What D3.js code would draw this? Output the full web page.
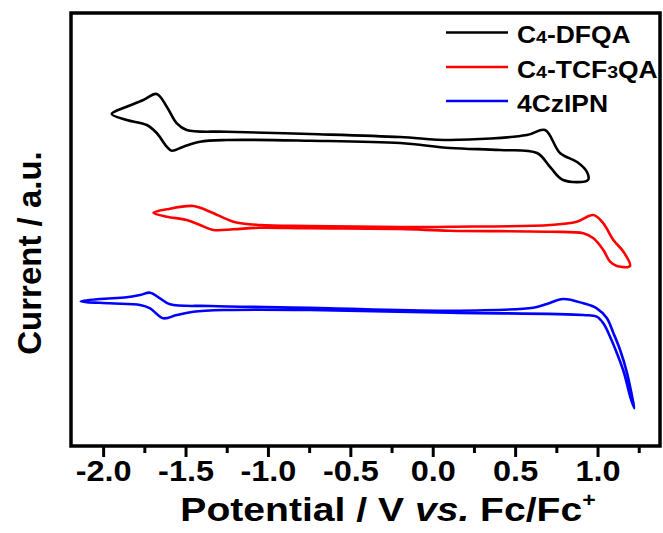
<!DOCTYPE html>
<meta charset="utf-8">
<style>
body { margin: 0; background: #fff; }
.frame { fill: none; stroke: #000; stroke-width: 3.5px; }
.cv { fill: none; stroke-width: 2.6px; stroke-linejoin: round; }
.axis text { font-family: "Liberation Sans", Arial, sans-serif; font-weight: bold; font-size: 29px; fill: #000; }
.axis line { stroke: #000; stroke-width: 3px; }
.axis path { display: none; }
.lbl { font-family: "Liberation Sans", Arial, sans-serif; font-weight: bold; fill: #000; }
</style>
<body>
<script src="https://d3js.org/d3.v7.min.js"></script>
<script>

// tick values of the potential axis
var majorTicks = [-2.0, -1.5, -1.0, -0.5, 0.0, 0.5, 1.0];
var minorTicks = [-2.25, -1.75, -1.25, -0.75, -0.25, 0.25, 0.75, 1.25];

// CV loops: forward scan then return scan (potential V, current a.u.)
var dfqaV = [-1.948, -1.857, -1.756, -1.675, -1.614, -1.553, -1.493, -1.250, -0.745, -0.198, 0.105, 0.572, 0.681, 0.772, 0.876, 0.936, 0.942,
             0.791, 0.712, 0.633, 0.408, 0.105, -0.198, -0.745, -1.250, -1.412, -1.513, -1.584, -1.614, -1.675, -1.735, -1.857];
var dfqaI = [33.2, 33.93, 34.6, 35.2, 33.93, 32.27, 31.6, 31.43, 31.2, 30.9, 30.6, 31.1, 31.6, 29.3, 28.4, 27.4, 26.6,
             26.6, 27.9, 29.3, 29.6, 29.8, 30.3, 30.53, 30.6, 30.43, 29.93, 29.53, 29.93, 31.3, 32.1, 32.6];

var tcfV = [-1.695, -1.614, -1.453, -1.351, -1.210, -1.048, -0.745, -0.198, 0.105, 0.712, 0.874, 0.975, 1.035, 1.096, 1.157, 1.197,
            1.117, 1.076, 1.035, 0.975, 0.914, 0.712, 0.105, -0.198, -0.745, -1.048, -1.210, -1.331, -1.412, -1.493, -1.614];
var tcfI = [23.32, 23.67, 24.0, 23.43, 22.43, 22.1, 22.0, 21.9, 21.93, 22.1, 22.43, 23.1, 22.27, 20.6, 19.43, 18.0,
            18.0, 18.43, 19.6, 20.77, 21.27, 21.43, 21.53, 21.7, 21.77, 21.83, 21.67, 21.6, 22.1, 22.6, 22.93];

var czV = [-2.136, -2.019, -1.857, -1.776, -1.715, -1.655, -1.594, -1.351, -0.745, 0.105, 0.610, 0.692, 0.792, 0.914, 0.995, 1.056, 1.096, 1.137, 1.179, 1.209, 1.223,
           1.197, 1.161, 1.117, 1.076, 1.035, 0.995, 0.914, 0.105, -0.745, -1.250, -1.453, -1.553, -1.635, -1.715, -1.776, -1.958];
var czI = [14.47, 14.7, 14.87, 15.1, 15.33, 14.77, 14.17, 14.0, 13.83, 13.53, 13.83, 14.2, 14.7, 14.27, 13.77, 12.8, 11.3, 9.6, 7.3, 5.0, 3.77,
           5.0, 7.3, 9.3, 10.93, 12.27, 12.93, 13.1, 13.33, 13.6, 13.6, 13.43, 13.1, 12.77, 13.77, 14.1, 14.27];

var seriesNames = ["C4-DFQA", "C4-TCF3QA", "4CzIPN"];
var seriesColors = ["#000000", "#ff0000", "#0000ff"];

// plot box ("top" is taken by window.top, so prefixed names)
var boxL = 71, boxR = 660, boxT = 13, boxB = 446;

var x = d3.scaleLinear().domain([-2.195, 1.379]).range([boxL, boxR]);
var y = d3.scaleLinear().domain([0, 43.3]).range([boxB, boxT]);

var svg = d3.select("body").append("svg")
    .attr("width", 663)
    .attr("height", 533);

var loop = d3.line()
    .x(function(d) { return x(d[0]); })
    .y(function(d) { return y(d[1]); })
    .curve(d3.curveCatmullRomClosed.alpha(0.5));

var loops = [d3.zip(dfqaV, dfqaI), d3.zip(tcfV, tcfI), d3.zip(czV, czI)];

loops.forEach(function(pts, i) {
  svg.append("path")
      .datum(pts)
      .attr("class", "cv")
      .style("stroke", seriesColors[i])
      .attr("d", loop);
});

// minor ticks
svg.append("g")
    .attr("class", "axis")
    .attr("transform", "translate(0," + boxB + ")")
    .call(d3.axisBottom(x).tickValues(minorTicks.filter(function(v) { return x(v) > boxL; }))
      .tickSize(7).tickFormat(""));

// major ticks + labels
svg.append("g")
    .attr("class", "axis")
    .attr("transform", "translate(0," + boxB + ")")
    .call(d3.axisBottom(x).tickValues(majorTicks).tickSize(11).tickPadding(3)
      .tickFormat(function(d) { return d.toFixed(1); }))
  .selectAll("text")
    .attr("transform", "scale(1.12,1)");

// frame
svg.append("rect").attr("class", "frame")
    .attr("x", boxL).attr("y", boxT)
    .attr("width", boxR - boxL).attr("height", boxB - boxT);

// axis titles (the original type is a bit wider than Liberation Sans)
var xt = svg.append("text").attr("class", "lbl")
    .attr("transform", "translate(388,521) scale(1.15,1)")
    .attr("text-anchor", "middle")
    .style("font-size", "34px");
xt.append("tspan").text("Potential / V ");
xt.append("tspan").style("font-style", "italic").text("vs.");
xt.append("tspan").text(" Fc/Fc");
xt.append("tspan").attr("dy", -14).style("font-size", "20px").text("+");

svg.append("text").attr("class", "lbl")
    .attr("transform", "translate(41,253) rotate(-90)")
    .attr("text-anchor", "middle")
    .style("font-size", "33px")
    .text("Current / a.u.");

// legend
var legend = svg.append("g");
var legY = [32.5, 67, 101];
seriesNames.forEach(function(name, i) {
  legend.append("line")
      .attr("x1", 446).attr("x2", 508)
      .attr("y1", legY[i]).attr("y2", legY[i])
      .style("stroke", seriesColors[i]).style("stroke-width", 2.6);
  var t = legend.append("text").attr("class", "lbl")
      .attr("transform", "translate(517," + (legY[i] + 10.5) + ") scale(1.15,1)")
      .style("font-size", "23px");
  // numeric parts of the names are drawn smaller
  var parts = i == 2 ? [name] : name.match(/[A-Za-z\-]+|\d/g);
  parts.forEach(function(p) {
    t.append("tspan").style("font-size", /^\d$/.test(p) ? "17px" : "23px").text(p);
  });
});

</script>
</body>
